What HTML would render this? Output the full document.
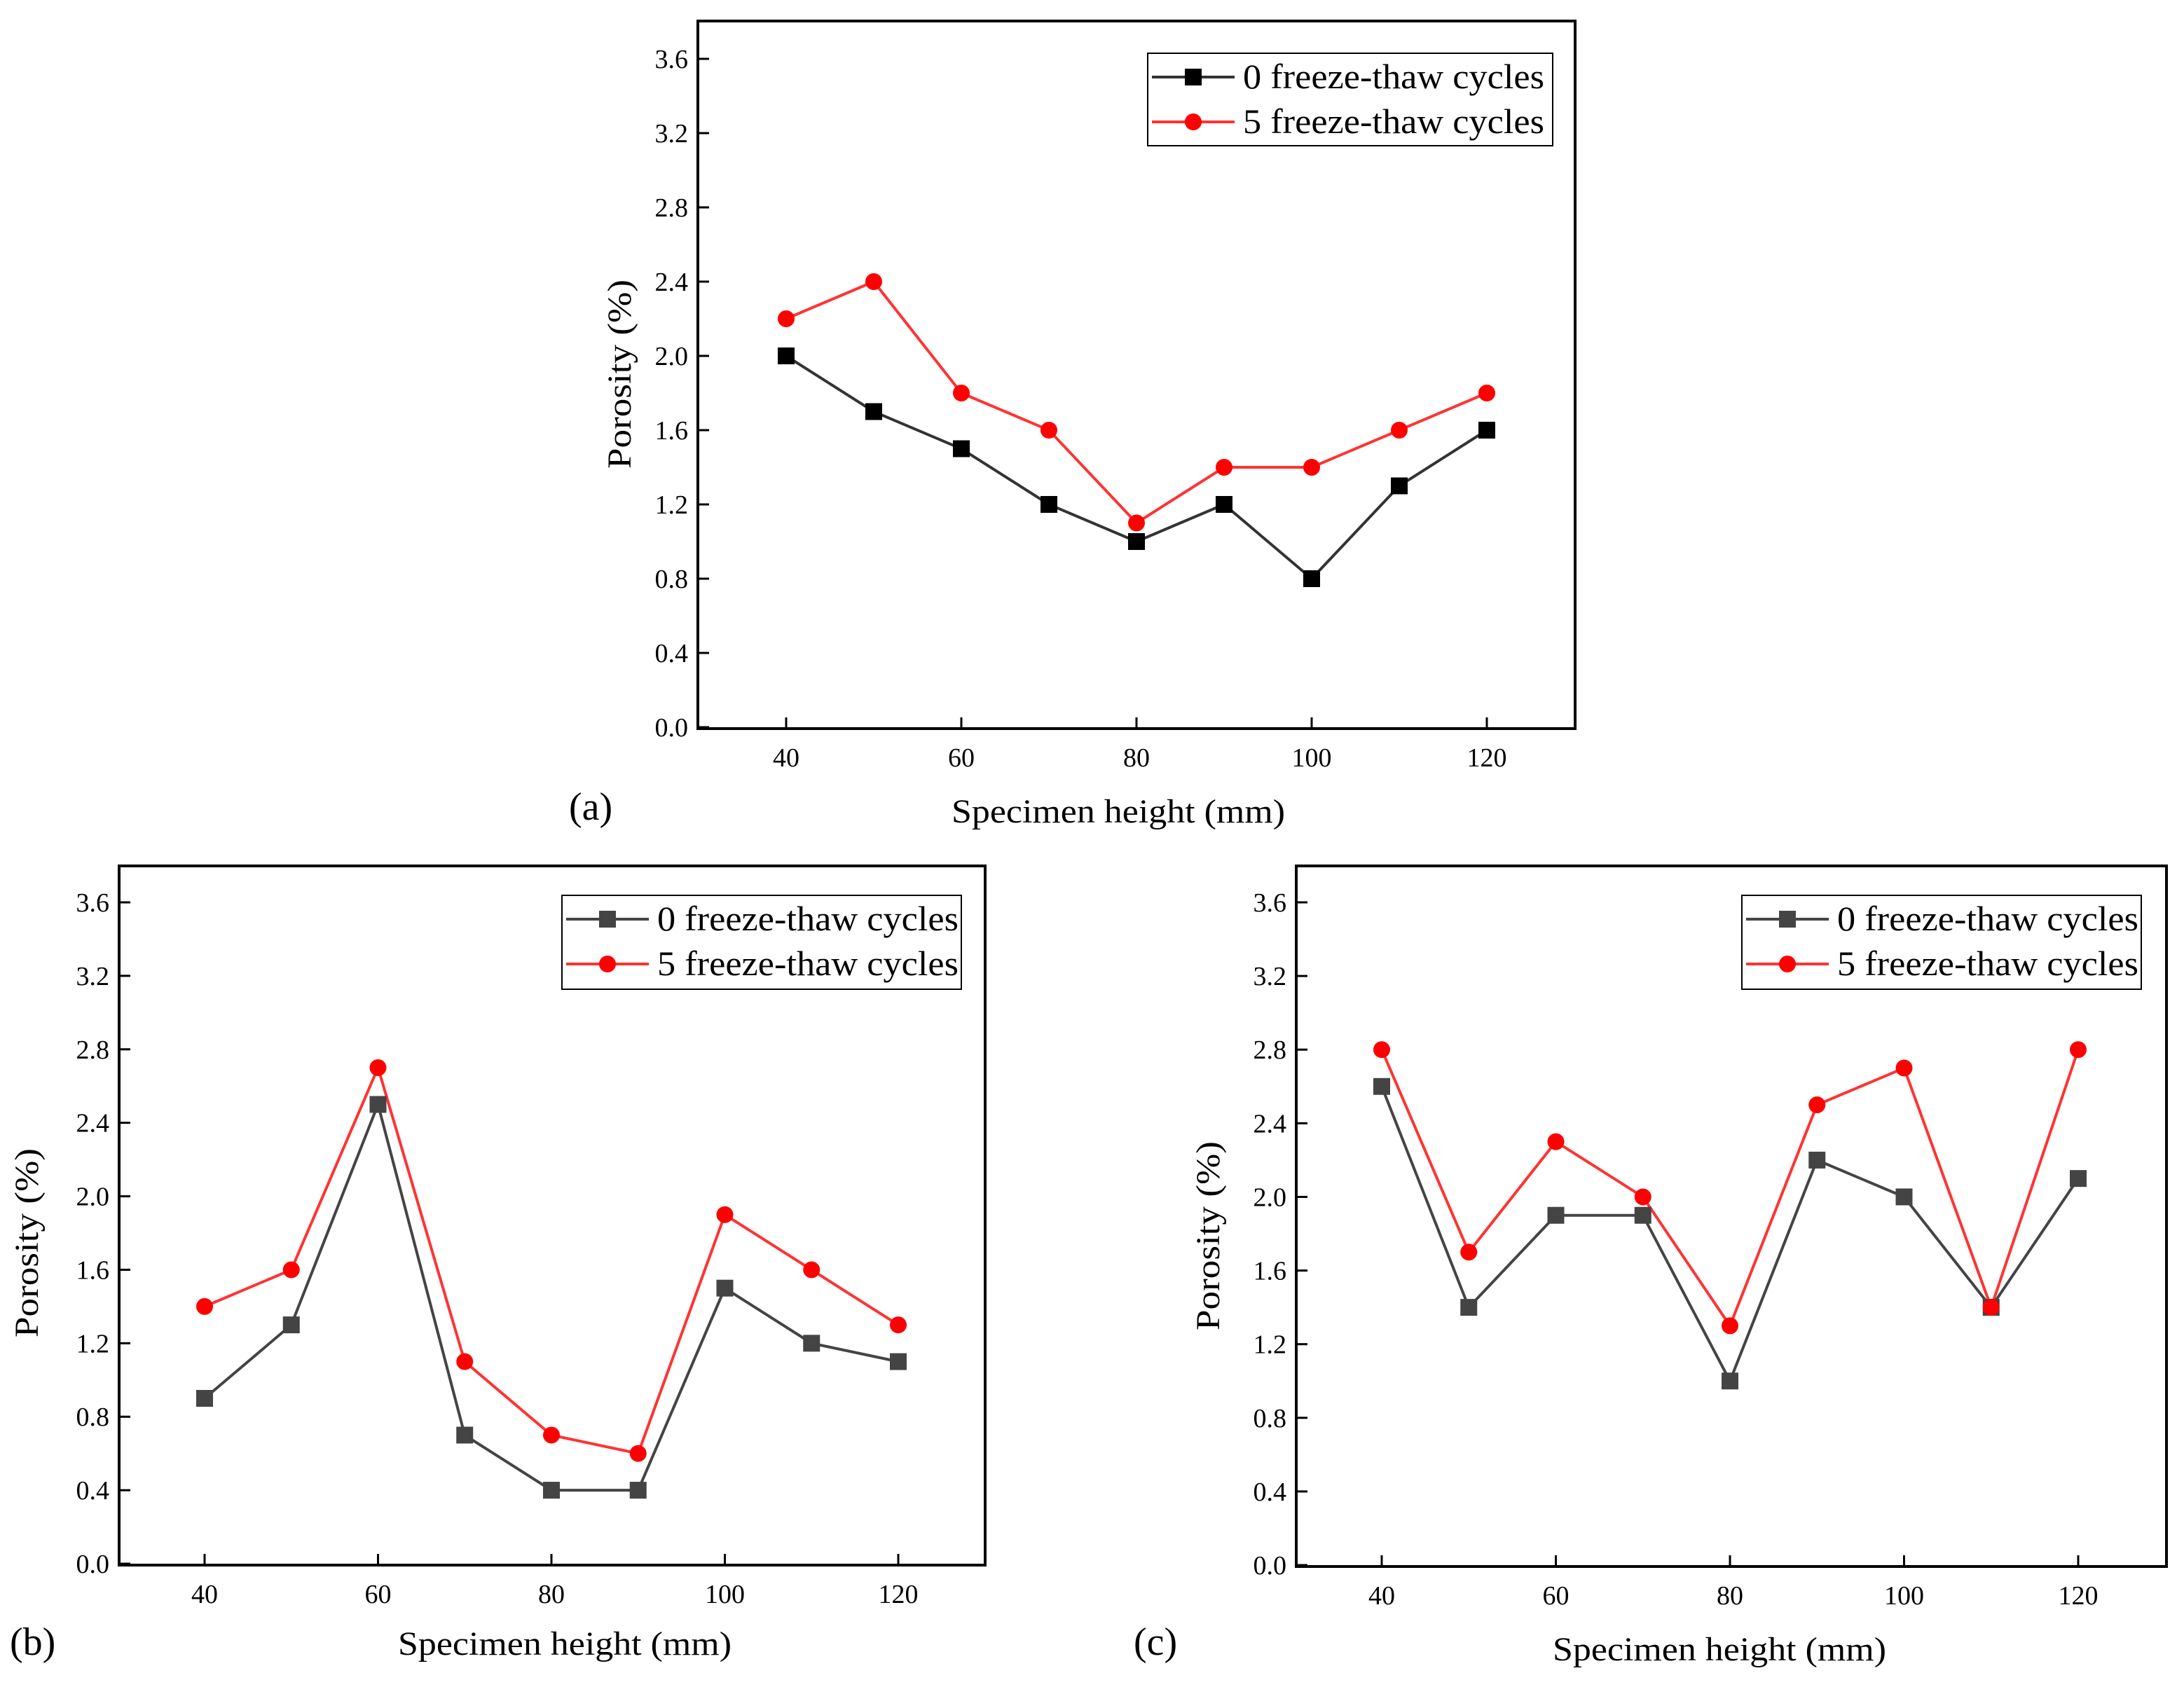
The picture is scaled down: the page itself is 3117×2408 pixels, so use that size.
<!DOCTYPE html>
<html><head><meta charset="utf-8"><style>
html,body{margin:0;padding:0;background:#fff;}
svg{display:block;}
text{font-family:"Liberation Serif","DejaVu Serif",serif;}
</style></head><body>
<svg id="chart" width="3117" height="2408" viewBox="0 0 3117 2408" xmlns="http://www.w3.org/2000/svg" font-family="Liberation Serif, serif"></svg>
<script>
const categories = [40,50,60,70,80,90,100,110,120];
const xTicks = [40,60,80,100,120];
const yTicks = [0.0,0.4,0.8,1.2,1.6,2.0,2.4,2.8,3.2,3.6];
const seriesNames = ["0 freeze-thaw cycles","5 freeze-thaw cycles"];
const a0 = [2.0,1.7,1.5,1.2,1.0,1.2,0.8,1.3,1.6];
const a5 = [2.2,2.4,1.8,1.6,1.1,1.4,1.4,1.6,1.8];
const b0 = [0.9,1.3,2.5,0.7,0.4,0.4,1.5,1.2,1.1];
const b5 = [1.4,1.6,2.7,1.1,0.7,0.6,1.9,1.6,1.3];
const c0 = [2.6,1.4,1.9,1.9,1.0,2.2,2.0,1.4,2.1];
const c5 = [2.8,1.7,2.3,2.0,1.3,2.5,2.7,1.4,2.8];

const NS="http://www.w3.org/2000/svg";
const svg=document.getElementById('chart');
function mk(tag,attrs,parent){const e=document.createElementNS(NS,tag);for(const k in attrs)e.setAttribute(k,attrs[k]);if(tag==='text')e.setAttribute('font-family','Liberation Serif, serif');(parent||svg).appendChild(e);return e;}

const panels=[
 {id:'a',box:[996,30,2248,1040],x40:1122,x120:2122,y0:1038,y36:84,leg:[1638,76,2216,208],lab:[812,1170],xt:[1596,1174],yt:[900,534],d0:a0,d5:a5,c0:'#000',l0:'#333'},
 {id:'b',box:[170,1236,1406,2234],x40:292,x120:1282,y0:2232,y36:1288,leg:[802,1278,1372,1412],lab:[14,2362],xt:[806,2362],yt:[54,1774],d0:b0,d5:b5,c0:'#444',l0:'#444'},
 {id:'c',box:[1850,1236,3092,2236],x40:1972,x120:2966,y0:2234,y36:1288,leg:[2486,1278,3056,1412],lab:[1618,2362],xt:[2454,2370],yt:[1740,1764],d0:c0,d5:c5,c0:'#444',l0:'#444'}
];
panels.forEach(p=>{
 const g=mk('g',{});
 
 
 const X=v=>p.x40+(v-40)*(p.x120-p.x40)/80;
 const Y=v=>p.y0-v*(p.y0-p.y36)/3.6;
 const [l,t,r,b]=p.box;
 const fr=mk('rect',{x:l,y:t,width:r-l,height:b-t,fill:'none',stroke:'#000','stroke-width':4},g);
 
 
 yTicks.forEach(v=>{
  mk('line',{x1:l,x2:l+16,y1:Y(v),y2:Y(v),stroke:'#000','stroke-width':3},g);
  const tx=mk('text',{x:l-14,y:Y(v)+13,'font-size':38,'text-anchor':'end'},g);
  tx.textContent=v.toFixed(1);
  
  
 });
 xTicks.forEach(v=>{
  mk('line',{x1:X(v),x2:X(v),y1:b,y2:b-16,stroke:'#000','stroke-width':3},g);
  const tx=mk('text',{x:X(v),y:b+54,'font-size':38,'text-anchor':'middle'},g);
  tx.textContent=v;
  
  
 });
 const xt=mk('text',{x:p.xt[0],y:p.xt[1],'font-size':48,'text-anchor':'middle',textLength:476,lengthAdjust:'spacingAndGlyphs'},g);
 xt.textContent='Specimen height (mm)';
 
 
 const yt=mk('text',{x:0,y:0,'font-size':48,'text-anchor':'middle',textLength:270,lengthAdjust:'spacingAndGlyphs',transform:`translate(${p.yt[0]},${p.yt[1]}) rotate(-90)`},g);
 yt.textContent='Porosity (%)';
 
 
 const lb=mk('text',{x:p.lab[0],y:p.lab[1],'font-size':56},g);
 lb.textContent='('+p.id+')';
 
 
 const pts1=categories.map((c,i)=>X(c)+','+Y(p.d0[i])).join(' ');
 const pts2=categories.map((c,i)=>X(c)+','+Y(p.d5[i])).join(' ');
 const s1=mk('polyline',{points:pts1,fill:'none',stroke:p.l0,'stroke-width':4},g);
 
 
 const s2=mk('polyline',{points:pts2,fill:'none',stroke:'#ff3333','stroke-width':4},g);
 
 
 categories.forEach((c,i)=>{
  const m=mk('rect',{x:X(c)-12,y:Y(p.d0[i])-12,width:24,height:24,fill:p.c0},g);
  
  
 });
 categories.forEach((c,i)=>{
  const m=mk('circle',{cx:X(c),cy:Y(p.d5[i]),r:12,fill:'#ff0000'},g);
  
  
 });
 const [ll,lt,lr,lbm]=p.leg;
 const lg=mk('g',{},g);
 
 
 mk('rect',{x:ll,y:lt,width:lr-ll,height:lbm-lt,fill:'#fff',stroke:'#000','stroke-width':2},lg);
 const rows=[lt+34,lt+98];
 const e1=mk('g',{},lg);
 
 
 mk('line',{x1:ll+6,x2:ll+124,y1:rows[0],y2:rows[0],stroke:p.l0,'stroke-width':4},e1);
 mk('rect',{x:ll+53,y:rows[0]-12,width:24,height:24,fill:p.c0},e1);
 const t1=mk('text',{x:ll+136,y:rows[0]+16,'font-size':50,textLength:430,lengthAdjust:'spacingAndGlyphs'},e1);t1.textContent=seriesNames[0];
 const e2=mk('g',{},lg);
 
 
 mk('line',{x1:ll+6,x2:ll+124,y1:rows[1],y2:rows[1],stroke:'#ff3333','stroke-width':4},e2);
 mk('circle',{cx:ll+65,cy:rows[1],r:12,fill:'#ff0000'},e2);
 const t2=mk('text',{x:ll+136,y:rows[1]+16,'font-size':50,textLength:430,lengthAdjust:'spacingAndGlyphs'},e2);t2.textContent=seriesNames[1];
});
</script>
</body></html>
